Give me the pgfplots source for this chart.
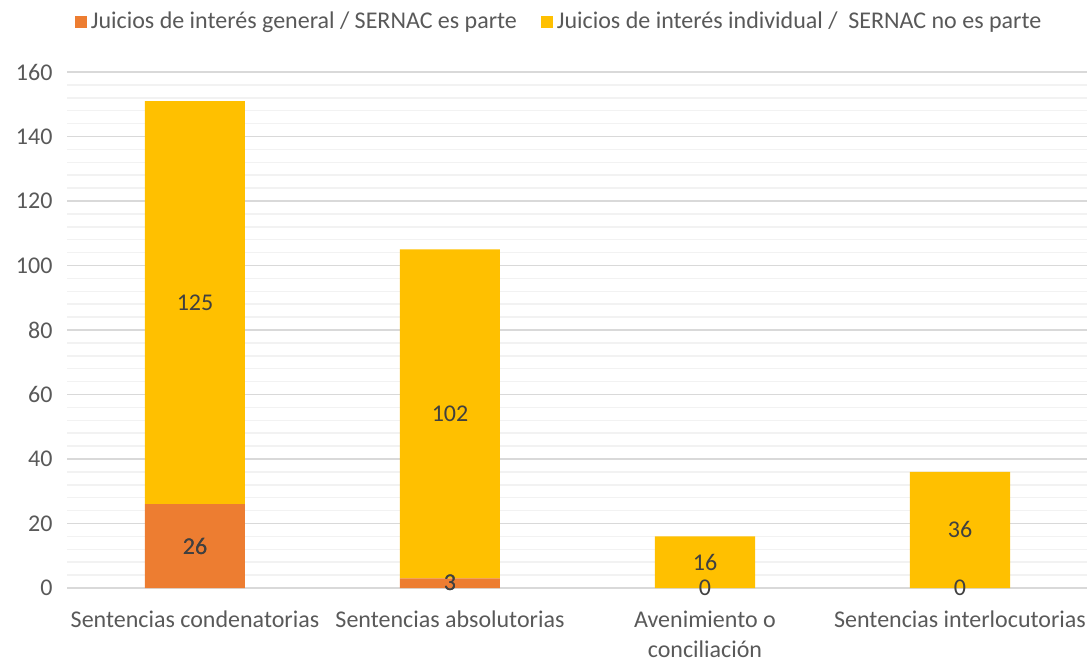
\documentclass[border=0pt]{standalone}
\usepackage{pgfplots}
\usepackage{pgfplotstable}
\pgfplotsset{compat=1.18}
\usepackage{fontspec}
\setmainfont{Carlito}

\definecolor{gen}{HTML}{ED7D31}
\definecolor{ind}{HTML}{FFC000}
\definecolor{majgrid}{HTML}{D9D9D9}
\definecolor{mingrid}{HTML}{F2F2F2}
\definecolor{tick}{HTML}{595959}
\definecolor{lbl}{HTML}{404040}

% x  value
\pgfplotstableread{
x v
0 26
1 3
2 0
3 0
}\general
\pgfplotstableread{
x v
0 125
1 102
2 16
3 36
}\individual

\begin{document}
\begin{tikzpicture}
\useasboundingbox (0pt,0pt) rectangle (544.5pt,330.5pt);
\begin{axis}[
    at={(33.75pt,36.5pt)}, anchor=south west,
    scale only axis,
    width=510pt, height=258pt,
    ybar stacked,
    bar width=50pt,
    xmin=-0.5, xmax=3.5,
    ymin=0, ymax=160,
    ytick={0,20,...,160},
    minor y tick num=4,
    ymajorgrids, yminorgrids,
    major grid style={majgrid, line width=0.75pt},
    minor grid style={mingrid, line width=0.75pt},
    xtick={0,1,2,3},
    xticklabels={Sentencias condenatorias, Sentencias absolutorias, {Avenimiento o\\conciliación}, Sentencias interlocutorias},
    major tick length=0pt, minor tick length=0pt,
    axis line style={draw=none},
    /pgf/number format/assume math mode=true,
    tick label style={font=\fontsize{12}{15}\selectfont, text=tick},
    xticklabel style={align=center, yshift=-8pt},
    yticklabel style={xshift=-4pt},
    nodes near coords,
    point meta=explicit,
    every node near coord/.append style={
        anchor=center, font=\fontsize{12}{15}\selectfont, text=lbl},
    legend style={at={(0.483,1.0)}, anchor=south, yshift=16pt,
        draw=none, legend columns=2, font=\fontsize{12}{15}\selectfont,
        text=tick,
        /tikz/every even column/.append style={column sep=10pt}},
    legend image code/.code={\fill[#1] (0pt,-3pt) rectangle (6pt,3pt);},
]
\addplot[fill=gen, draw=none] table[x=x, y=v, meta=v] {\general};
\addplot[fill=ind, draw=none] table[x=x, y=v, meta=v] {\individual};
% zero-height bars get no label in stacked mode: label them from the same table
\addplot[forget plot, sharp plot, stack plots=false, draw=none, mark=none]
    table[x=x, y=v, meta=v] {\general};
\legend{Juicios de interés general / SERNAC es parte, Juicios de interés individual /\ \ SERNAC no es parte}
\end{axis}
\end{tikzpicture}
\end{document}
